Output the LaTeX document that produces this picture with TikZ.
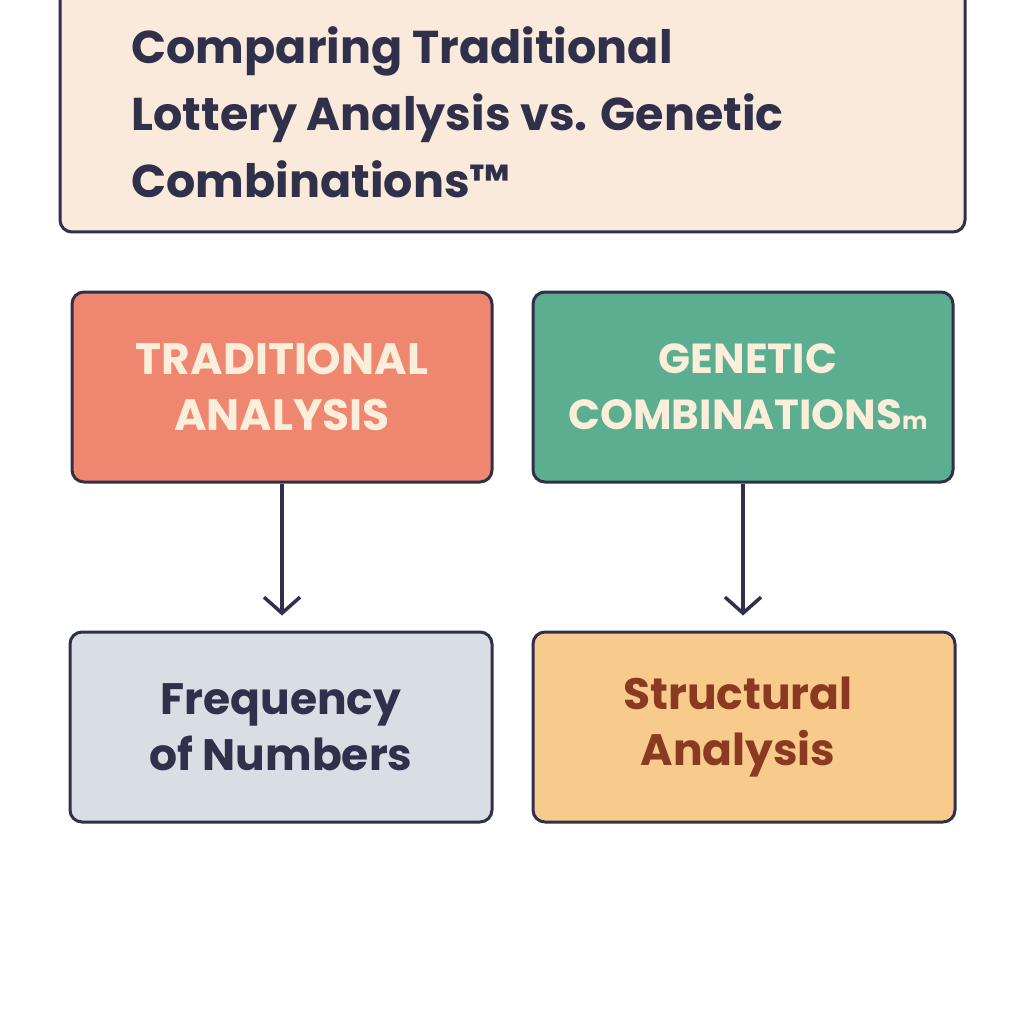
\documentclass[tikz,border=0pt]{standalone}
\usepackage{fontspec}
\setmainfont{Poppins}
\usetikzlibrary{arrows.meta}
\definecolor{ink}{HTML}{30304A}
\definecolor{cream}{HTML}{FBEEDB}
\definecolor{taf}{HTML}{EE8670}
\definecolor{gcf}{HTML}{5BAE8F}
\definecolor{fnf}{HTML}{D8DEE3}
\definecolor{saf}{HTML}{F8CB8C}
\definecolor{sat}{HTML}{8B3A22}
\definecolor{titf}{HTML}{FAEADB}
\begin{document}
\begin{tikzpicture}[x=1pt,y=-1pt,
 box/.style={draw=ink,line width=3pt,rounded corners=12pt},
 lbl/.style={font=\fontsize{44}{56}\selectfont\bfseries,align=center},
 arr/.style={draw=ink,line width=3.5pt,-{Straight Barb[length=16pt,width=36pt,line width=3.5pt]}}]
\useasboundingbox (0,0) rectangle (1024,1024);
\fill[white] (0,0) rectangle (1024,1024);
\draw[box,fill=titf] (60,-20) rectangle (965,232);
\node[anchor=west,align=left,font=\fontsize{46}{67}\selectfont\bfseries,text=ink] (title) at (128,112)
 {Comparing Traditional\\Lottery Analysis vs. Genetic\\Combinations™};
\node[box,fill=taf,minimum width=420pt,minimum height=190pt] (ta) at (282,387) {};
\node[lbl,text=cream] at (ta) {TRADITIONAL\\ANALYSIS};
\node[box,fill=gcf,minimum width=420pt,minimum height=190pt] (gc) at (743,387) {};
\node[lbl,text=cream,font=\fontsize{42}{56}\selectfont\bfseries] at (748,387) {GENETIC\\COMBINATIONS{\fontsize{24}{24}\selectfont m}};
\node[box,fill=fnf,minimum width=422pt,minimum height=190pt] (fn) at (281,727) {};
\node[lbl,text=ink] at (fn) {Frequency\\of Numbers};
\node[box,fill=saf,minimum width=422pt,minimum height=190pt] (sa) at (744,727) {};
\node[lbl,text=sat] at (738,727) {Structural\\Analysis};
\draw[arr] (ta.south) -- ++(0,132);
\draw[arr] (gc.south) -- ++(0,132);
\end{tikzpicture}
\end{document}
